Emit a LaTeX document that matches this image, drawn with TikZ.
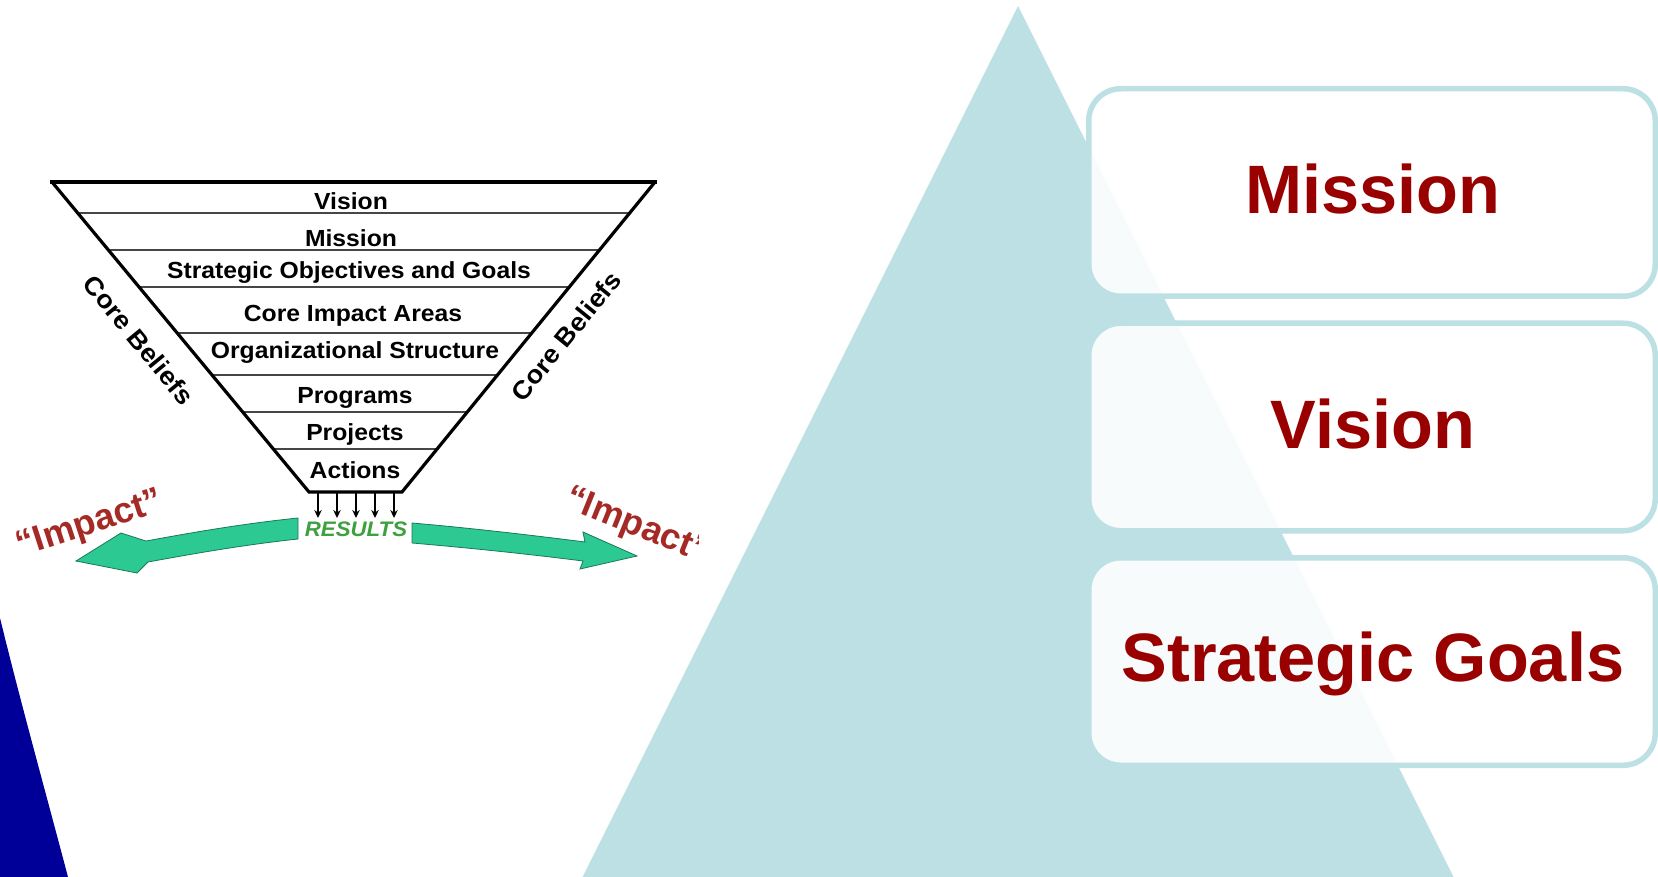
\documentclass[tikz,border=0pt]{standalone}
\usepackage{fontspec}
\setmainfont{Liberation Sans}
\newfontfamily\diagfont[FakeStretch=1.06]{Liberation Sans}
\usetikzlibrary{arrows.meta,calc}
\definecolor{tri}{RGB}{188,224,228}
\definecolor{boxred}{RGB}{153,0,0}
\definecolor{navyshape}{RGB}{0,0,153}
\definecolor{arrowgreen}{RGB}{44,201,146}
\definecolor{resgreen}{RGB}{62,160,62}
\definecolor{impred}{RGB}{165,42,38}
\definecolor{sepgray}{RGB}{70,70,70}
\begin{document}
\begin{tikzpicture}[x=1pt,y=-1pt,
  layer/.style={font=\diagfont\bfseries\fontsize{23.3}{28}\selectfont, anchor=base, inner sep=0pt},
  beliefs/.style={font=\diagfont\bfseries\fontsize{25.5}{30}\selectfont, anchor=center, inner sep=0pt},
  panel/.style={draw=tri, line width=5.5pt, fill=white, fill opacity=0.9, text opacity=1,
                rounded corners=32pt, minimum width=566.5pt, minimum height=207.5pt, inner sep=0pt},
  bigtxt/.style={font=\bfseries\fontsize{68.5}{80}\selectfont, text=boxred, anchor=base, inner sep=0pt},
  septline/.style={draw=sepgray, line width=2.2pt},
  smallarrow/.style={line width=1.8pt, -{Stealth[length=8pt,width=7.5pt]}},
  garrow/.style={fill=arrowgreen, draw=arrowgreen!60!black, line width=0.8pt, line join=miter},
  impact/.style={font=\bfseries\fontsize{36}{40}\selectfont, text=impred, inner sep=0pt, anchor=center}
]
\useasboundingbox (0,0) rectangle (1658,877);
\fill[white] (0,0) rectangle (1658,877);

% big triangle
\coordinate (apex) at (1018,6);
\coordinate (tbr) at (1453.5,877);
\coordinate (tbl) at (582.5,877);
\fill[tri] (apex) -- (tbr) -- (tbl) -- cycle;

% boxes
\node[panel] (b1) at (1372,192.5) {};
\node[panel] (b2) at (1372,427) {};
\node[panel] (b3) at (1372,661.5) {};
\node[bigtxt] (tm) at (1373,213.5) {Mission};
\node[bigtxt] (tv) at (1373,448) {Vision};
\node[bigtxt] (tg) at (1373,681.5) {Strategic Goals};

% inverted trapezoid
\coordinate (TL) at (52,182);
\coordinate (TR) at (655,182);
\coordinate (BR) at (402,492);
\coordinate (BL) at (309,492);
\foreach \t in {0.099,0.219,0.340,0.486,0.623,0.741,0.862}
  \draw[septline] ($(TL)!\t!(BL)$) -- ($(TR)!\t!(BR)$);
\draw[line width=3.2pt, line join=miter] (TL) -- (BL) -- (BR) -- (TR);
\draw[line width=4pt] ($(TL)+(-2,0)$) -- ($(TR)+(2,0)$);

\node[layer] (l1) at (351,210) {Vision};
\node[layer] (l2) at (351,246.7) {Mission};
\node[layer] (l3) at (349,278.3) {Strategic Objectives and Goals};
\node[layer] (l4) at (353,321.7) {Core Impact Areas};
\node[layer] (l5) at (355,358.3) {Organizational Structure};
\node[layer] (l6) at (355,403.3) {Programs};
\node[layer] (l7) at (355,440.7) {Projects};
\node[layer] (l8) at (355,478.3) {Actions};

\node[beliefs, rotate=-50.7] (cbl) at (139,340) {Core Beliefs};
\node[beliefs, rotate=51] (cbr) at (566,336) {Core Beliefs};

% small arrows
\foreach \i/\x in {1/318,2/337,3/356,4/375,5/394} {
  \coordinate (s\i) at (\x,492);
  \coordinate (e\i) at (\x,518);
  \draw[smallarrow] (s\i) -- (e\i);
}

\node[font=\diagfont\bfseries\itshape\fontsize{21}{25}\selectfont, text=resgreen, anchor=base, inner sep=0pt] (res) at (356,536.7) {RESULTS};

% green arrows
\fill[garrow] (298,518) .. controls (240,524) and (190,533) .. (146,541) -- (121,533) -- (76,561) -- (137,573) -- (148,562) .. controls (192,554) and (242,545) .. (298,539) -- cycle;
\fill[garrow] (412,523) .. controls (470,528) and (530,535) .. (585,542) -- (583,532) -- (637,556) -- (580,569) -- (583,561) .. controls (528,554) and (470,548) .. (412,543) -- cycle;

\node[impact, rotate=18] (impL) at (90,525) {“Impact”};
\begin{scope}
  \clip (0,0) rectangle (698,877);
  \node[impact, rotate=-22] (impR) at (637,527) {“Impact”};
\end{scope}

% dark blue shape
\fill[navyshape] (0,618) .. controls (20,700) and (45,790) .. (68,877) -- (0,877) -- cycle;
\end{tikzpicture}
\end{document}
